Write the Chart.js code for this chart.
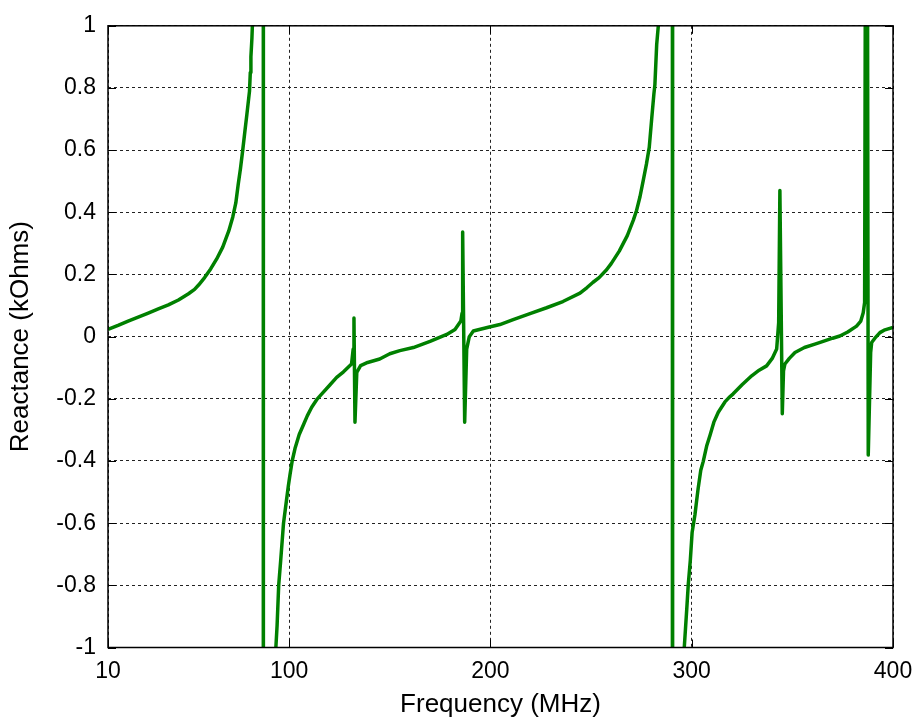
<!DOCTYPE html>
<html>
<head>
<meta charset="utf-8">
<script src="https://cdn.jsdelivr.net/npm/chart.js@4.4.1/dist/chart.umd.min.js"></script>
<style>
  html, body { margin: 0; padding: 0; background: #fff; }
  #wrap { width: 923px; height: 726px; }
</style>
</head>
<body>
<div id="wrap"><canvas id="chart" width="923" height="726"></canvas></div>
<script>
// frequency (MHz) and reactance (kOhms)
const freqMHz = [
  10, 15, 20, 25, 30, 35, 40, 45, 50, 53, 55, 58, 61, 64, 67, 70, 72, 73.5, 74.7, 75.8, 76.9,
  78, 79, 80.3, 80.7, 81, 81.5, 81.9, 83, 85, 86.8, 87.12, 87.2, 88, 91.5,
  93.4, 94.0, 94.8, 95.8, 96.5, 97.2, 98, 98.8, 99.6, 100.4, 101.5, 102.9, 105, 107, 109, 111.2, 114,
  116.9, 120, 123.6, 127, 131.0, 131.8, 132.2, 132.7, 133.6, 135.5, 139, 145, 150, 155, 161.7, 170,
  178.3, 182.4, 185.3, 185.9, 186.2, 187.2, 188.2, 189.5, 191.5, 200, 204.7, 211.3, 220, 227.9, 236,
  244.5, 248, 251, 254, 257.7, 260, 262, 264, 266, 268, 269.5, 271, 272.6, 274.3, 275.9, 277.5, 278.9,
  280.1, 281.2, 281.7, 282.6, 283.4, 284, 287, 290.3, 290.47,
  290.55, 292, 295, 296.3, 297.5, 298.3, 299.3, 300.2, 301.6, 302.4, 303.2, 304.5, 305.7, 307.5, 309.1,
  311, 313.2, 316.5, 318.5, 320.6, 325, 329.8, 333.5, 337.2, 340, 342.2, 343.2, 343.8, 345.0, 345.6,
  346.3, 348.5, 351.3, 356, 361.2, 365.3, 370, 373.6, 377.5, 381.9, 384, 385.2, 385.9, 386.9,
  387.7, 388.9, 389.4, 391, 393.5, 396, 400
];
const reactanceKOhm = [
  0.023, 0.036, 0.05, 0.063, 0.076, 0.089, 0.102, 0.118, 0.138, 0.152, 0.166, 0.19, 0.218, 0.25, 0.288, 0.34, 0.385, 0.43, 0.49, 0.54, 0.598,
  0.66, 0.715, 0.79, 0.85, 0.9, 0.96, 1.03, 1.6, 4, 30, 500, -500, -30, -3,
  -1.0, -0.93, -0.8, -0.72, -0.66, -0.6, -0.56, -0.52, -0.48, -0.445, -0.4, -0.36, -0.315, -0.285, -0.255, -0.227, -0.2,
  -0.179, -0.157, -0.131, -0.113, -0.088, -0.04, 0.06, -0.275, -0.115, -0.093, -0.083, -0.072, -0.055, -0.045, -0.035, -0.015,
  0.007, 0.023, 0.05, 0.075, 0.337, -0.275, -0.04, 0.0, 0.018, 0.032, 0.039, 0.055, 0.075, 0.093, 0.113,
  0.14, 0.158, 0.175, 0.19, 0.215, 0.235, 0.255, 0.275, 0.30, 0.325, 0.35, 0.375, 0.406, 0.45, 0.502, 0.555, 0.609,
  0.70, 0.78, 0.81, 0.94, 1.0, 1.4, 5, 100, 500,
  -500, -20, -2.5, -1.0, -0.88, -0.796, -0.72, -0.63, -0.573, -0.53, -0.488, -0.43, -0.402, -0.35, -0.317,
  -0.275, -0.243, -0.21, -0.196, -0.184, -0.155, -0.126, -0.108, -0.094, -0.07, -0.04, 0.045, 0.47, -0.248, -0.11,
  -0.088, -0.07, -0.051, -0.035, -0.024, -0.015, -0.005, 0.002, 0.015, 0.034, 0.05, 0.077, 0.11, 3,
  -0.381, -0.051, -0.019, -0.005, 0.013, 0.022, 0.03
];
const xTicks = [10, 100, 200, 300, 400];
const yTicks = [-1, -0.8, -0.6, -0.4, -0.2, 0, 0.2, 0.4, 0.6, 0.8, 1];

const FONT = "'Liberation Sans', Arial, Helvetica, sans-serif";

// box around the axes plus short inward tick marks, like the MATLAB figure
const boxPlugin = {
  id: "box",
  afterDraw(chart) {
    const { ctx, chartArea: a, scales } = chart;
    ctx.save();
    ctx.strokeStyle = "#000";
    ctx.lineWidth = 1;
    ctx.beginPath();
    xTicks.forEach((v) => {
      const px = Math.round(scales.x.getPixelForValue(v)) + 0.5;
      ctx.moveTo(px, a.bottom); ctx.lineTo(px, a.bottom - 8);
      ctx.moveTo(px, a.top); ctx.lineTo(px, a.top + 8);
    });
    yTicks.forEach((v) => {
      const py = Math.round(scales.y.getPixelForValue(v)) + 0.5;
      ctx.moveTo(a.left, py); ctx.lineTo(a.left + 8, py);
      ctx.moveTo(a.right, py); ctx.lineTo(a.right - 8, py);
    });
    ctx.stroke();
    ctx.lineWidth = 1.5;
    ctx.strokeRect(a.left, a.top, a.right - a.left, a.bottom - a.top);
    ctx.restore();
  }
};

new Chart(document.getElementById("chart"), {
  type: "line",
  data: {
    datasets: [{
      data: freqMHz.map((f, i) => ({ x: f, y: reactanceKOhm[i] })),
      borderColor: "rgb(0,128,0)",
      borderWidth: 3.5,
      borderJoinStyle: "round",
      pointRadius: 0,
      tension: 0,
      clip: 0,
      fill: false
    }]
  },
  options: {
    responsive: false,
    animation: false,
    events: [],
    layout: { padding: { top: 21, right: 30, left: 0, bottom: 0 } },
    plugins: { legend: { display: false }, tooltip: { enabled: false } },
    scales: {
      x: {
        type: "linear",
        min: 10,
        max: 400,
        afterBuildTicks: (scale) => { scale.ticks = xTicks.map((v) => ({ value: v })); },
        afterFit: (scale) => { scale.height = 78.5; },
        border: { display: false, dash: [3, 3] },
        grid: { color: "#222", lineWidth: 1, drawTicks: false },
        ticks: { color: "#000", font: { family: FONT, size: 23 }, padding: 10, maxRotation: 0, autoSkip: false },
        title: {
          display: true,
          text: "Frequency (MHz)",
          color: "#000",
          font: { family: FONT, size: 26, lineHeight: 1 },
          padding: { top: 0, bottom: 8 }
        }
      },
      y: {
        min: -1,
        max: 1,
        afterBuildTicks: (scale) => { scale.ticks = yTicks.map((v) => ({ value: v })); },
        afterFit: (scale) => { scale.width = 108; },
        border: { display: false, dash: [3, 3] },
        grid: { color: "#222", lineWidth: 1, drawTicks: false },
        ticks: {
          color: "#000",
          font: { family: FONT, size: 23 },
          padding: 12,
          callback: (v) => String(parseFloat(Number(v).toFixed(1)))
        },
        title: {
          display: true,
          text: "Reactance (kOhms)",
          color: "#000",
          font: { family: FONT, size: 26, lineHeight: 1 },
          padding: { top: 8, bottom: 0 }
        }
      }
    }
  },
  plugins: [boxPlugin]
});
</script>
</body>
</html>
